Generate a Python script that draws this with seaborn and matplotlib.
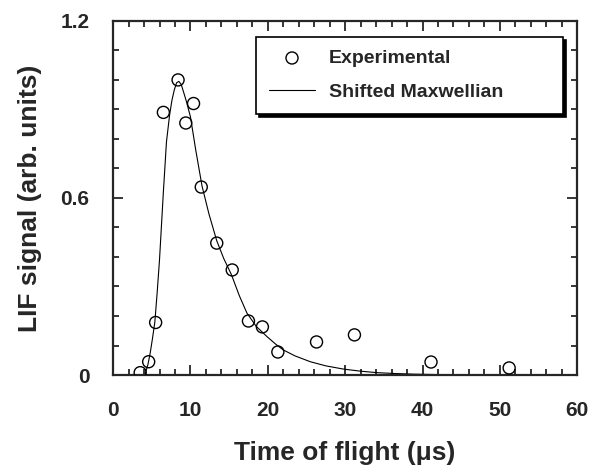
import numpy as np
import pandas as pd
import matplotlib
matplotlib.use("Agg")
import matplotlib.pyplot as plt
from matplotlib.ticker import MultipleLocator, FixedLocator
import seaborn as sns

# measured LIF points (time of flight in us, signal in arb. units)
tof_exp = [3.5, 4.6, 5.5, 6.5, 8.4, 9.4, 10.4, 11.4, 13.4, 15.4, 17.5, 19.3, 21.3, 26.3, 31.2, 41.1, 51.2]
lif_exp = [0.008, 0.045, 0.178, 0.89, 1.0, 0.854, 0.92, 0.637, 0.447, 0.356, 0.183, 0.163, 0.078, 0.112, 0.136, 0.044, 0.024]

# fitted shifted Maxwellian
tof_fit = [4.1, 4.5, 4.8, 5.1, 5.4, 5.7, 6.0, 6.5, 6.9, 7.3, 7.6, 7.9, 8.2, 8.5, 8.8, 9.1, 9.5,
           10.0, 10.7, 11.5, 12.4, 13.4, 14.3, 15.3, 16.3, 17.3, 18.5, 19.9, 21.0, 22.0, 23.5,
           25.5, 27.5, 29.8, 32.0, 34.1, 36.5, 38.8, 42.0, 45.0, 50.0, 60.0]
lif_fit = [0.0, 0.035, 0.075, 0.125, 0.18, 0.28, 0.39, 0.62, 0.79, 0.88, 0.93, 0.965, 0.99, 0.995,
           0.985, 0.96, 0.925, 0.875, 0.76, 0.64, 0.545, 0.455, 0.395, 0.34, 0.27, 0.21, 0.165,
           0.13, 0.105, 0.085, 0.065, 0.045, 0.031, 0.02, 0.013, 0.008, 0.005, 0.003, 0.0015,
           0.001, 0.0005, 0.0]

df_exp = pd.DataFrame({"tof": tof_exp, "lif": lif_exp})
df_fit = pd.DataFrame({"tof": tof_fit, "lif": lif_fit})

sns.set_style("ticks")
plt.rcParams["font.family"] = ["Liberation Sans", "DejaVu Sans"]
plt.rcParams["font.weight"] = "bold"

fig = plt.figure(figsize=(5.89, 4.75), dpi=100)
ax = fig.add_axes([0.192, 0.2105, 0.788, 0.7455])

sns.lineplot(data=df_fit, x="tof", y="lif", ax=ax, color="black", lw=0.8,
             label="Shifted Maxwellian", zorder=2)
sns.scatterplot(data=df_exp, x="tof", y="lif", ax=ax, marker="o", s=75,
                facecolor="none", edgecolor="black", linewidth=1.0,
                label="Experimental", zorder=3)

ax.set_xlim(0, 60)
ax.set_ylim(0, 1.2)
ax.xaxis.set_major_locator(MultipleLocator(10))
ax.xaxis.set_minor_locator(MultipleLocator(2))
ax.yaxis.set_major_locator(FixedLocator([0, 0.6, 1.2]))
ax.yaxis.set_minor_locator(MultipleLocator(0.1))
ax.set_yticklabels(["0", "0.6", "1.2"])

for s in ax.spines.values():
    s.set_visible(True)
    s.set_linewidth(1.6)
ax.tick_params(which="both", direction="in", top=True, right=True, width=1.3)
ax.tick_params(which="major", length=7)
ax.tick_params(which="minor", length=4)
ax.tick_params(axis="x", which="major", pad=19, labelsize=15)
ax.tick_params(axis="y", which="major", pad=17, labelsize=15)

ax.set_xlabel("Time of flight (\u03bcs)", fontsize=19, fontweight="bold", labelpad=15)
ax.set_ylabel("LIF signal (arb. units)", fontsize=19, fontweight="bold", labelpad=13)

handles, labels = ax.get_legend_handles_labels()
order = [labels.index("Experimental"), labels.index("Shifted Maxwellian")]
leg = ax.legend([handles[i] for i in order], [labels[i] for i in order],
                loc="upper left", bbox_to_anchor=(0.308, 0.732, 0.662, 0.223),
                mode="expand", fontsize=14, frameon=True, fancybox=False,
                shadow={"color": "black", "alpha": 1.0, "ox": 2, "oy": -2},
                handlelength=2.4, handletextpad=0.7, labelspacing=0.85,
                borderpad=0.65, borderaxespad=0)
leg.get_frame().set_edgecolor("black")
leg.get_frame().set_linewidth(1.2)
leg.get_frame().set_alpha(1)
for t in leg.get_texts():
    t.set_fontweight("bold")

fig.savefig("out.png", dpi=100)
